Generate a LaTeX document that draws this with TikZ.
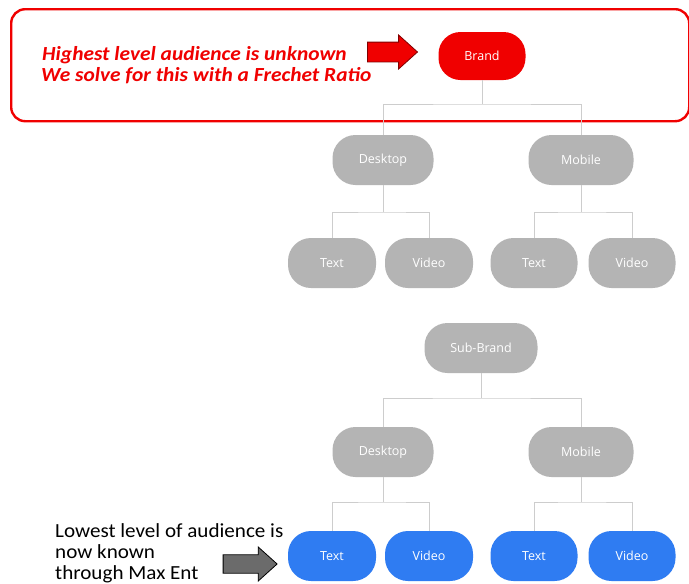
\documentclass[tikz,border=0pt]{standalone}
\usepackage{fontspec}
\setmainfont{Carlito}
\newfontfamily\redfont[FakeStretch=1.07]{Carlito}
\newfontfamily\blackfont[FakeStretch=1.055]{Carlito}
\newfontfamily\nodefont{Open Sans}
\usetikzlibrary{shapes.arrows}
\definecolor{boxred}{HTML}{F00000}
\definecolor{nodegray}{HTML}{B4B4B4}
\definecolor{nodeblue}{HTML}{2F7CF2}
\definecolor{linegray}{HTML}{CDCDCD}
\tikzset{
  pill/.style={rectangle, rounded corners=23pt, minimum height=50pt, text=white, font=\nodefont\fontsize{12.5}{14}\selectfont, inner sep=0pt},
  graypill/.style={pill, fill=nodegray},
  bluepill/.style={pill, fill=nodeblue},
  wire/.style={draw=linegray, line width=0.9pt},
  blockarrow/.style={single arrow, line width=0.8pt, inner xsep=0pt, text height=0pt, text depth=0pt, single arrow tip angle=84},
  redline/.style={anchor=base west, text=boxred, font=\redfont\bfseries\itshape\fontsize{20}{20}\selectfont, inner sep=0pt},
  blackline/.style={anchor=base west, font=\blackfont\fontsize{20}{20}\selectfont, inner sep=0pt},
}
\begin{document}
\begin{tikzpicture}[x=1pt,y=-1pt]
\useasboundingbox (0,0) rectangle (689,584);
\fill[white] (0,0) rectangle (689,584);
% red frame
\node[draw=boxred, line width=2.4pt, rounded corners=14pt, minimum width=678pt, minimum height=112pt, anchor=north west] (frame) at (10,8) {};
\node[redline] (red1) at (42,60) {Highest level audience is unknown};
\node[redline] (red2) at (41,81) {We solve for this with a Frechet Ratio};
\node[blockarrow, draw=red!50!black, fill=boxred, minimum height=50pt, minimum width=34pt, inner ysep=9.5pt] (redarrow) at (387,52) {};
% top tree
\node[pill, fill=boxred, minimum width=87pt, minimum height=48pt, rounded corners=22pt] (brand) at (482,56) {Brand};
\node[graypill, minimum width=101pt] (d1) at (383,160) {Desktop};
\node[graypill, minimum width=105pt] (m1) at (581,160) {Mobile};
\node[graypill, minimum width=88pt] (t1) at (332,263) {Text};
\node[graypill, minimum width=88pt] (v1) at (429,263) {Video};
\node[graypill, minimum width=87pt] (t2) at (534,263) {Text};
\node[graypill, minimum width=87pt] (v2) at (632,263) {Video};
\coordinate (b1) at (482,104);
\coordinate (j1) at (383,212);
\coordinate (j2) at (581,212);
\draw[wire] (brand.south) -- (b1) (d1.north) |- (b1) -| (m1.north);
\draw[wire] (d1.south) -- (j1) (t1.north) |- (j1) -| (v1.north);
\draw[wire] (m1.south) -- (j2) (t2.north) |- (j2) -| (v2.north);
% bottom tree
\node[graypill, minimum width=113pt] (sb) at (481,348) {Sub-Brand};
\node[graypill, minimum width=101pt] (d2) at (383,452) {Desktop};
\node[graypill, minimum width=105pt] (m2) at (581,452) {Mobile};
\node[bluepill, minimum width=88pt] (t3) at (332,556) {Text};
\node[bluepill, minimum width=88pt] (v3) at (429,556) {Video};
\node[bluepill, minimum width=87pt] (t4) at (534,556) {Text};
\node[bluepill, minimum width=87pt] (v4) at (632,556) {Video};
\coordinate (b2) at (481,398);
\coordinate (j3) at (383,502);
\coordinate (j4) at (581,502);
\draw[wire] (sb.south) -- (b2) (d2.north) |- (b2) -| (m2.north);
\draw[wire] (d2.south) -- (j3) (t3.north) |- (j3) -| (v3.north);
\draw[wire] (m2.south) -- (j4) (t4.north) |- (j4) -| (v4.north);
% bottom text
\node[blackline] (blk1) at (55,537) {Lowest level of audience is};
\node[blackline] (blk2) at (55,558) {now known};
\node[blackline] (blk3) at (55,579) {through Max Ent};
\node[blockarrow, draw=black, fill=black!58, minimum height=54pt, minimum width=34pt, inner ysep=8pt] (grayarrow) at (245,564) {};
\end{tikzpicture}
\end{document}
